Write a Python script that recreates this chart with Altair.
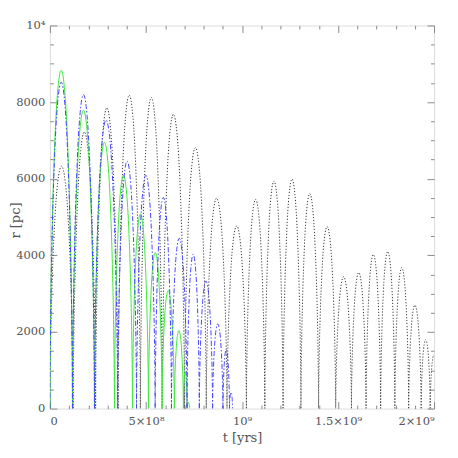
import altair as alt
import pandas as pd

# ---- data (t in years, r in pc) ----
# zero crossings (arc boundaries) and arc peak heights, one list per orbit
BLACK_ZEROS = [0, 1.21e8, 2.38e8, 3.55e8, 4.71e8, 5.85e8, 7.01e8, 8.14e8, 9.22e8,
               10.23e8, 11.19e8, 12.14e8, 13.07e8, 13.99e8, 14.88e8, 15.70e8,
               16.46e8, 17.22e8, 17.96e8, 18.68e8, 19.33e8, 19.80e8, 20.19e8]
BLACK_PEAKS = [6330, 7220, 7850, 8180, 8120, 7680, 6810, 5490, 4770, 5460, 5940,
               5990, 5610, 4750, 3445, 3550, 4020, 4100, 3680, 2700, 1800, 1400]

BLUE_ZEROS = [0, 1.175e8, 2.32e8, 3.53e8, 4.51e8, 5.48e8, 6.33e8, 7.14e8, 7.78e8,
              8.47e8, 9.01e8, 9.35e8, 9.51e8]
BLUE_PEAKS = [8520, 8195, 7530, 6460, 6090, 5510, 4445, 4030, 3330, 2210, 1540, 425]

GREEN_ZEROS = [0, 1.175e8, 2.32e8, 3.36e8, 4.30e8, 5.13e8, 5.84e8, 6.48e8, 6.95e8,
               7.14e8, 7.27e8]
GREEN_PEAKS = [8830, 7790, 6950, 6090, 5080, 4070, 3080, 2040, 970, 160]

# tick values and labels
X_TICKS = [0, 5e8, 1e9, 1.5e9, 2e9]
X_LABELS = ["0", "5\u00d710\u2078", "10\u2079", "1.5\u00d710\u2079", "2\u00d710\u2079"]
X_MINOR = [1e8, 2e8, 3e8, 4e8, 6e8, 7e8, 8e8, 9e8, 11e8, 12e8, 13e8, 14e8,
           16e8, 17e8, 18e8, 19e8]
Y_TICKS = [0, 2000, 4000, 6000, 8000, 10000]
Y_LABELS = ["0", "2000", "4000", "6000", "8000", "10\u2074"]
Y_MINOR = [500, 1000, 1500, 2500, 3000, 3500, 4500, 5000, 5500, 6500, 7000,
           7500, 8500, 9000, 9500]

# arch template (shape of one radial-orbit hump, fraction of width / of height)
ARCH_U = [0, 0.0038, 0.0288, 0.0909, 0.1955, 0.3371, 0.5, 0.6629, 0.8045,
          0.9091, 0.9712, 0.9962, 1]
ARCH_F = [0, 0.067, 0.25, 0.5, 0.75, 0.933, 1, 0.933, 0.75, 0.5, 0.25, 0.067, 0]


def arcs(zeros, peaks):
    rows = []
    for i, h in enumerate(peaks):
        t0, t1 = zeros[i], zeros[i + 1]
        for k, (u, f) in enumerate(zip(ARCH_U, ARCH_F)):
            rows.append({"t": t0 + u * (t1 - t0), "r": f * h, "arc": i, "k": k})
    return pd.DataFrame(rows)


black = arcs(BLACK_ZEROS, BLACK_PEAKS)
blue = arcs(BLUE_ZEROS, BLUE_PEAKS)
green = arcs(GREEN_ZEROS, GREEN_PEAKS)

W, H = 385, 384
FONT = "DejaVu Serif"
GRAY = "#8a8a8a"
TXT = "#555555"

xs = alt.Scale(domain=[0, 2e9], nice=False, zero=False)
ys = alt.Scale(domain=[0, 10000], nice=False, zero=False)


def lexpr(values, labels):
    parts = [f"abs(datum.value - {v}) < 1 ? '{l}'" for v, l in zip(values, labels)]
    return " : ".join(parts) + " : ''"


def tick_axis(orient, values, size, offset):
    return alt.Axis(orient=orient, values=values, labels=False, domain=False,
                    grid=False, ticks=True, tickSize=size, tickColor=GRAY,
                    tickWidth=1, offset=offset, title=None)


x_lab = alt.Axis(orient="bottom", values=X_TICKS, labelExpr=lexpr(X_TICKS, X_LABELS),
                 ticks=False, domain=False, grid=False, labelFont=FONT,
                 labelFontSize=11.5, labelColor=TXT, labelPadding=7,
                 title="t [yrs]", titleFont=FONT, titleFontSize=13,
                 titleFontWeight="normal", titleColor=TXT, titleX=W / 2,
                 titleY=29, titleBaseline="middle")
y_lab = alt.Axis(orient="left", values=Y_TICKS, labelExpr=lexpr(Y_TICKS, Y_LABELS),
                 ticks=False, domain=False, grid=False, labelFont=FONT,
                 labelFontSize=11.5, labelColor=TXT, labelPadding=5,
                 title="r [pc]", titleFont=FONT, titleFontSize=13,
                 titleFontWeight="normal", titleColor=TXT, titleX=-34,
                 titleY=H / 2 + 3, titleAngle=270, titleBaseline="middle")


def layer(df, color, dash, xaxis, yaxis, opacity=1.0):
    kw = dict(color=color, strokeWidth=1, interpolate="monotone", clip=True,
              opacity=opacity)
    if dash:
        kw["strokeDash"] = dash
    return alt.Chart(df).mark_line(**kw).encode(
        x=alt.X("t:Q", scale=xs, axis=xaxis),
        y=alt.Y("r:Q", scale=ys, axis=yaxis),
        detail="arc:N",
        order="k:Q",
    )


l_black = layer(black, "#3a3a3a", [1.2, 1.8], x_lab, y_lab)
l_green = layer(green, "#3ee83e", None,
                tick_axis("top", X_TICKS, 7, -H), tick_axis("right", Y_TICKS, 7, -W))
l_blue = layer(blue, "#4646ff", [5, 2, 1.5, 2],
               tick_axis("bottom", X_TICKS, 7, -H), tick_axis("left", Y_TICKS, 7, -W))
l_m1 = layer(black, "#ffffff", None,
             tick_axis("top", X_MINOR, 3.5, -H), tick_axis("right", Y_MINOR, 3.5, -W),
             opacity=0.0)
l_m2 = layer(black, "#ffffff", None,
             tick_axis("bottom", X_MINOR, 3.5, -H), tick_axis("left", Y_MINOR, 3.5, -W),
             opacity=0.0)

chart = (
    alt.layer(l_m1, l_m2, l_black, l_green, l_blue)
    .resolve_axis(x="independent", y="independent")
    .properties(width=W, height=H,
                padding={"left": 42, "top": 17, "right": 16, "bottom": 41},
                autosize=alt.AutoSizeParams(type="none"))
    .configure_view(stroke=GRAY, strokeWidth=1)
    .configure(background="white")
)

chart.save("out.html", embed_options={"renderer": "svg", "actions": False})
